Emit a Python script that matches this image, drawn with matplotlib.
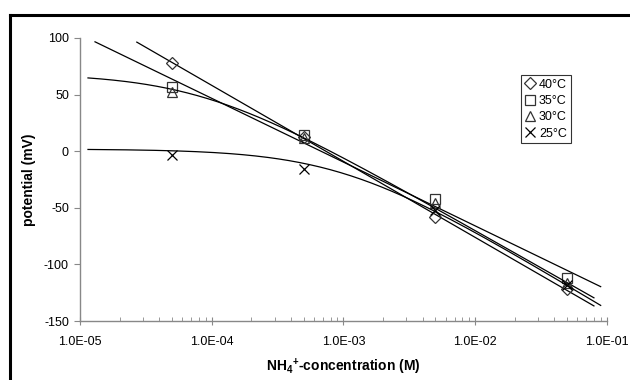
import numpy as np
import matplotlib
matplotlib.use("Agg")
from matplotlib import pyplot as plt
from matplotlib.ticker import FixedLocator, FuncFormatter, LogLocator, NullFormatter

plt.rcParams['font.family'] = ['Liberation Sans', 'DejaVu Sans']
plt.rcParams['mathtext.fontset'] = 'custom'
plt.rcParams['mathtext.rm'] = 'Liberation Sans'
plt.rcParams['mathtext.bf'] = 'Liberation Sans:bold'

# measured points
conc = [5e-5, 5e-4, 5e-3, 5e-2]
pot_40 = [78, 13, -58, -122]
pot_35 = [57, 14, -42, -112]
pot_30 = [52, 12, -46, -116]
pot_25 = [-3, -16, -52, -118]

labels = ['40°C', '35°C', '30°C', '25°C']
markers = ['D', 's', '^', 'x']
# trendline extent (M)
line_start = [2.7e-5, 1.3e-5, 1.15e-5, 1.15e-5]
line_end = [8.0e-2, 9.0e-2, 8.0e-2, 9.0e-2]
# trendlines: E = E0 + S*log10(c + K); None -> straight fit to the points
trend_e0 = [None, None, -201.8, -209.0]
trend_s = [None, None, -66.0, -70.0]
trend_k = [None, None, 8e-5, 9.7e-4]


def trend(x, y, e0, s, k):
    if e0 is None:
        s, e0 = np.polyfit(np.log10(x), y, 1)
        k = 0.0
    return lambda c: e0 + s * np.log10(c + k)


fig = plt.figure(figsize=(6.3, 3.8), dpi=100)
ax = fig.add_axes([0.127, 0.155, 0.836, 0.745])

series = [pot_40, pot_35, pot_30, pot_25]
for i, pot in enumerate(series):
    f = trend(conc, pot, trend_e0[i], trend_s[i], trend_k[i])
    xs = np.logspace(np.log10(line_start[i]), np.log10(line_end[i]), 200)
    ax.plot(xs, f(xs), color='black', lw=0.9)
    m = markers[i]
    if m == 'x':
        ax.plot(conc, pot, linestyle='none', marker=m, ms=7, mew=0.9,
                color='black', label=labels[i])
    else:
        ax.plot(conc, pot, linestyle='none', marker=m, ms=7 if m != 'D' else 6,
                mfc='none', mec='#333333', mew=0.9, label=labels[i])

ax.set_xscale('log')
ax.set_xlim(1e-5, 1e-1)
ax.set_ylim(-150, 100)
ax.yaxis.set_major_locator(FixedLocator([-150, -100, -50, 0, 50, 100]))
ax.xaxis.set_major_locator(FixedLocator([1e-5, 1e-4, 1e-3, 1e-2, 1e-1]))
ax.xaxis.set_minor_locator(LogLocator(base=10, subs=np.arange(2, 10)))
ax.xaxis.set_minor_formatter(NullFormatter())
ax.xaxis.set_major_formatter(FuncFormatter(lambda v, p: '%.1E' % v))
ax.yaxis.set_major_formatter(FuncFormatter(lambda v, p: '%d' % v))

for s in ['top', 'right']:
    ax.spines[s].set_visible(False)
for s in ['left', 'bottom']:
    ax.spines[s].set_color('#888888')
    ax.spines[s].set_linewidth(1.0)

ax.tick_params(axis='y', which='major', direction='out', length=4, color='#888888',
               labelsize=9, pad=4)
ax.tick_params(axis='x', which='major', direction='inout', length=6, color='#888888',
               labelsize=9, pad=8)
ax.tick_params(axis='x', which='minor', direction='in', length=3, color='#888888')

ax.set_ylabel('potential (mV)', fontsize=10, fontweight='bold', labelpad=6)
ax.set_xlabel(r'NH$_\mathbf{4}$$^\mathbf{+}$-concentration (M)', fontsize=10,
              fontweight='bold', labelpad=6)

leg = ax.legend(loc='upper left', bbox_to_anchor=(0.838, 0.87), frameon=True,
                fancybox=False, edgecolor='black', fontsize=9, handlelength=0.8,
                handletextpad=0.3, borderpad=0.3, labelspacing=0.35,
                borderaxespad=0)
leg.get_frame().set_linewidth(0.8)

# partial outer frame (top and left)
fig.add_artist(plt.Line2D([10 / 630, 1.0], [1 - 15 / 380, 1 - 15 / 380],
                          transform=fig.transFigure, color='black', lw=2.2))
fig.add_artist(plt.Line2D([10 / 630, 10 / 630], [0.0, 1 - 15 / 380],
                          transform=fig.transFigure, color='black', lw=2.2))

fig.savefig('out.png', dpi=100)
